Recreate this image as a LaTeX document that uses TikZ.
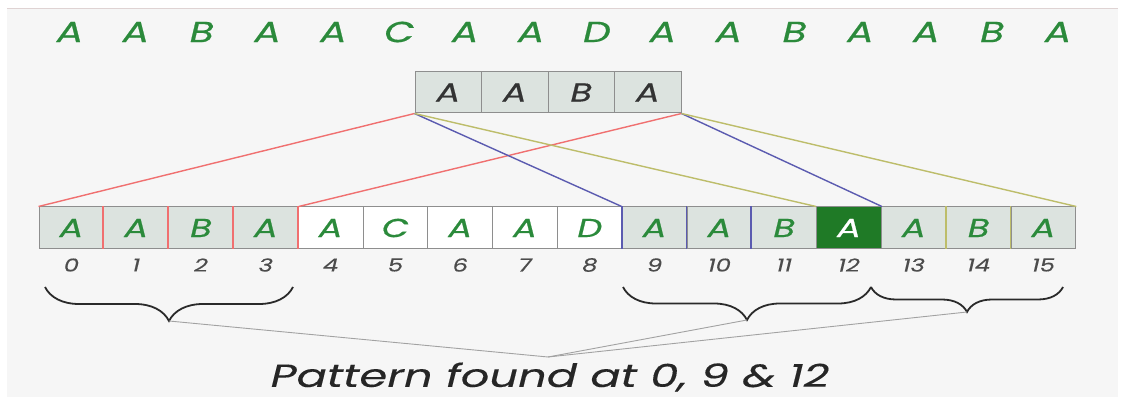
\documentclass[tikz,border=0pt]{standalone}
\usepackage{fontspec}
\setmainfont{Poppins}
\newfontfamily\popfont{Poppins}[FakeBold=0.6]
\newfontfamily\poplight{Poppins}[FakeBold=0.2]
\usetikzlibrary{decorations.pathreplacing}
\definecolor{panel}{HTML}{F6F6F6}
\definecolor{cellgray}{HTML}{DCE3DF}
\definecolor{edgegray}{HTML}{8E8E8E}
\definecolor{lettergreen}{HTML}{2B8A3B}
\definecolor{darkgreen}{HTML}{1F7A26}
\definecolor{linered}{HTML}{F07070}
\definecolor{lineblue}{HTML}{5B5BB0}
\definecolor{lineolive}{HTML}{BDBD6A}
\definecolor{pointer}{HTML}{A2A2A2}
\definecolor{bracecol}{HTML}{2A2A2A}
% letters in this figure are set wide
\newcommand{\wide}[2][1.35]{\scalebox{#1}[1]{#2}}
\tikzset{
  toplet/.style={font=\fontsize{29}{29}\popfont\itshape, text=lettergreen, inner sep=0pt},
  patcell/.style={draw=edgegray, line width=1pt, fill=cellgray, minimum width=66.5pt, minimum height=41pt,
    inner sep=0pt, font=\fontsize{26}{26}\popfont\itshape, text=black!80},
  txtcell/.style={draw=edgegray, line width=1pt, fill=cellgray, minimum width=64.8pt, minimum height=42pt,
    inner sep=0pt, font=\fontsize{26}{26}\popfont\itshape, text=lettergreen},
  plaincell/.style={txtcell, fill=white},
  hitcell/.style={txtcell, fill=darkgreen, text=white},
  idx/.style={font=\fontsize{18}{18}\poplight\itshape, text=black!70, inner sep=0pt},
  matchline/.style={line width=1.4pt},
  divider/.style={line width=1.8pt},
  curly/.style={draw=bracecol, line width=1.8pt, decorate,
    decoration={brace, mirror, amplitude=#1, aspect=0.5}},
  pointerline/.style={draw=pointer, line width=0.9pt},
}
\begin{document}
\begin{tikzpicture}[x=1pt, y=-1pt]
\useasboundingbox (0,0) rectangle (1124,403);
% background panel
\fill[white] (0,0) rectangle (1124,403);
\fill[panel] (7,9) rectangle (1118,397);
\draw[red!15!gray!30, line width=1pt] (7,9) -- (1118,9);

% text string on top
\foreach \ch [count=\i from 0] in {A,A,B,A,A,C,A,A,D,A,A,B,A,A,B,A} {
  \node[toplet] (t\i) at ({70+65.87*\i},32) {\wide{\ch}};
}

% pattern
\foreach \ch [count=\i from 0] in {A,A,B,A} {
  \node[patcell] (p\i) at ({448.25+66.5*\i},92.5) {\wide{\ch}};
}

% indexed text cells
\foreach \ch/\sty [count=\i from 0] in {A/txtcell,A/txtcell,B/txtcell,A/txtcell,
    A/plaincell,C/plaincell,A/plaincell,A/plaincell,D/plaincell,
    A/txtcell,A/txtcell,B/txtcell,A/hitcell,A/txtcell,B/txtcell,A/txtcell} {
  \node[\sty] (c\i) at ({39+64.8*(\i+0.5)},228) {\wide{\ch}};
  \node[idx] (n\i) at ({39+64.8*(\i+0.5)},265) {\wide{\i}};
}

% coloured cell dividers for each match
\foreach \i in {1,2,3,4} {\draw[linered, divider] (c\i.north west) -- (c\i.south west);}
\foreach \i in {9,10,11} {\draw[lineblue, divider] (c\i.north west) -- (c\i.south west);}
\foreach \i in {14,15} {\draw[lineolive, divider] (c\i.north west) -- (c\i.south west);}

% pattern alignment lines
\draw[linered, matchline] (p0.south west) -- (c0.north west);
\draw[linered, matchline] (p3.south east) -- (c3.north east);
\draw[lineblue, matchline] (p0.south west) -- (c9.north west);
\draw[lineblue, matchline] (p3.south east) -- (c12.north east);
\draw[lineolive, matchline] (p0.south west) -- (c12.north west);
\draw[lineolive, matchline] (p3.south east) -- (c15.north east);

% braces under the matches
\draw[curly=34pt] (45,287) -- (293,287);
\draw[curly=33pt] (623,287) -- (871,287);
\draw[curly=25pt] (871,287) -- (1063,287);
\coordinate (b0) at (169,321);
\coordinate (b9) at (747,320);
\coordinate (b12) at (967,312);

% result label and pointers
\node[font=\fontsize{32}{32}\poplight\itshape, text=black!85, inner sep=0pt] (res) at (550,377) {\wide[1.4]{Pattern found at 0, 9 \& 12}};
\coordinate (meet) at (548,357);
\draw[pointerline] (b0) -- (meet);
\draw[pointerline] (b9) -- (meet);
\draw[pointerline] (b12) -- (meet);
\end{tikzpicture}
\end{document}
